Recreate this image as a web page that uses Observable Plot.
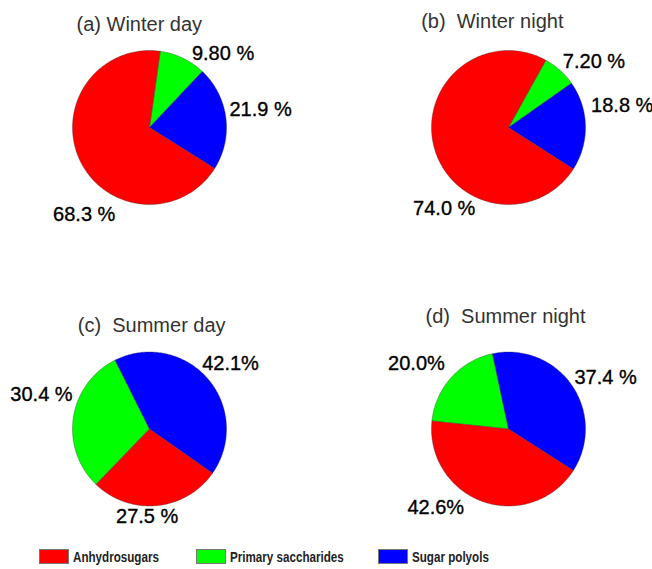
<!DOCTYPE html>
<html><head><meta charset="utf-8">
<script src="https://cdn.jsdelivr.net/npm/d3@7"></script>
<script src="https://cdn.jsdelivr.net/npm/@observablehq/plot@0.6"></script>
<style>
html,body{margin:0;padding:0;background:#fff;}
#wrap{position:relative;width:652px;height:569px;overflow:hidden;}
#legend{position:absolute;left:0;top:540px;width:652px;height:29px;font-family:"Liberation Sans",Arial,sans-serif;font-weight:bold;font-size:15.5px;color:#222;}
.item{position:absolute;top:9px;height:15px;white-space:nowrap;}
.sw{position:absolute;left:0;top:0;width:30px;height:15px;box-sizing:border-box;border:1px solid #777;}
.tx{position:absolute;left:34px;top:-1.5px;line-height:18px;display:inline-block;transform:scaleX(0.75);transform-origin:0 50%;}
</style></head><body><div id="wrap"><div id="chart"></div><div id="legend"></div></div>
<script>
// ---- data ----
const panelTitles = ["(a) Winter day", "(b)  Winter night", "(c)  Summer day", "(d)  Summer night"];
const categories = ["Anhydrosugars", "Primary saccharides", "Sugar polyols"];
const anhydrosugars = [68.3, 74.0, 27.5, 42.6];
const primarySaccharides = [9.80, 7.20, 30.4, 20.0];
const sugarPolyols = [21.9, 18.8, 42.1, 37.4];
const anhydroLabels = ["68.3 %", "74.0 %", "27.5 %", "42.6%"];
const primaryLabels = ["9.80 %", "7.20 %", "30.4 %", "20.0%"];
const polyolLabels = ["21.9 %", "18.8 %", "42.1%", "37.4 %"];
const colors = ["#ff0000", "#00ff00", "#0000ff"];

// ---- layout ----
const panelCol = [0, 1, 0, 1];
const panelRow = [0, 0, 1, 1];
const startAngle = [8, 29, 224, 276]; // degrees clockwise from 12 o'clock where the primary-saccharide slice begins
const titlePos = [[-0.948, 1.331], [-1.134, 1.374], [-0.931, 1.349], [-1.078, 1.466]];
const labelPos = [ // [anhydro, primary, polyols]
  [[-0.848, -1.13], [0.955, 0.955], [1.442, 0.234]],
  [[-0.835, -1.058], [1.11, 0.857], [1.477, 0.286]],
  [[-0.03, -1.136], [-1.403, 0.442], [1.052, 0.851]],
  [[-0.944, -1.026], [-1.195, 0.847], [1.26, 0.673]]
];

// ---- build slice outlines from values ----
const pts = [];
const labels = [];
const titles = [];
panelTitles.forEach((t, p) => {
  const col = panelCol[p], row = panelRow[p];
  titles.push({text: t, col, row, x: titlePos[p][0], y: titlePos[p][1]});
  const slices = [
    [categories[1], primarySaccharides[p], primaryLabels[p], labelPos[p][1]],
    [categories[2], sugarPolyols[p], polyolLabels[p], labelPos[p][2]],
    [categories[0], anhydrosugars[p], anhydroLabels[p], labelPos[p][0]]
  ];
  const total = d3.sum(slices, s => s[1]);
  let a = startAngle[p];
  slices.forEach(([cat, v, lab, lp]) => {
    const span = v / total * 360;
    const key = p + "-" + cat;
    const n = Math.max(2, Math.ceil(span));
    pts.push({key, cat, col, row, x: 0, y: 0});
    for (let i = 0; i <= n; i++) {
      const ang = (a + span * i / n) * Math.PI / 180;
      pts.push({key, cat, col, row, x: Math.sin(ang), y: Math.cos(ang)});
    }
    pts.push({key, cat, col, row, x: 0, y: 0});
    labels.push({text: lab, col, row, x: lp[0], y: lp[1]});
    a += span;
  });
});

const chart = Plot.plot({
  width: 652, height: 540,
  marginLeft: 72, marginRight: 67, marginTop: 50, marginBottom: 34.5,
  style: {fontFamily: "'Liberation Sans', Arial, sans-serif", background: "#fff", overflow: "visible"},
  fx: {domain: [0, 1], paddingInner: 0.571, paddingOuter: 0, axis: null, round: false},
  fy: {domain: [0, 1], paddingInner: 0.4892, paddingOuter: 0, axis: null, round: false},
  x: {domain: [-1, 1], axis: null},
  y: {domain: [-1, 1], axis: null},
  color: {domain: categories, range: colors},
  facet: {marginTop: 0, marginRight: 0, marginBottom: 0, marginLeft: 0},
  marks: [
    Plot.line(pts, {x: "x", y: "y", z: "key", fx: "col", fy: "row", fill: "cat", stroke: "#333", strokeWidth: 0.6, strokeOpacity: 0.6, strokeLinejoin: "round"}),
    Plot.text(titles, {x: "x", y: "y", fx: "col", fy: "row", text: "text", textAnchor: "start", lineAnchor: "middle", fontSize: 20, fill: "#333"}),
    Plot.text(labels, {x: "x", y: "y", fx: "col", fy: "row", text: "text", textAnchor: "middle", lineAnchor: "middle", fontSize: 20, fill: "#000", stroke: "#000", strokeWidth: 0.35})
  ]
});
document.getElementById("chart").appendChild(chart);

// ---- legend ----
const legendLeft = [39, 196, 378];
const legend = document.getElementById("legend");
categories.forEach((c, i) => {
  const it = document.createElement("div");
  it.className = "item";
  it.style.left = legendLeft[i] + "px";
  const sw = document.createElement("div");
  sw.className = "sw";
  sw.style.background = colors[i];
  const tx = document.createElement("span");
  tx.className = "tx";
  tx.textContent = c;
  it.appendChild(sw); it.appendChild(tx);
  legend.appendChild(it);
});
</script></body></html>
